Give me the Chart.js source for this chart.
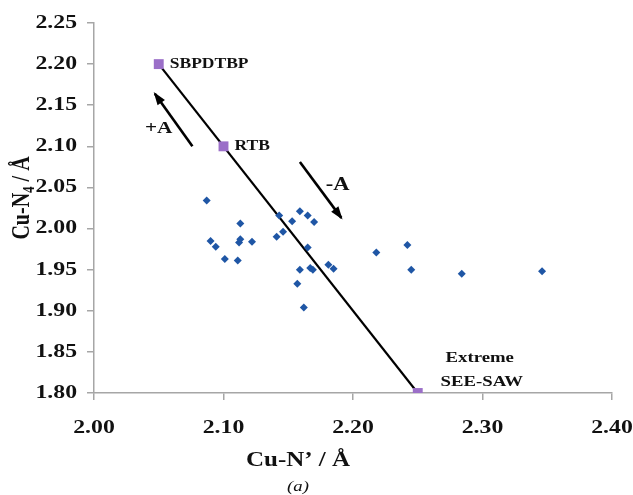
<!DOCTYPE html>
<html>
<head>
<meta charset="utf-8">
<script src="https://cdn.jsdelivr.net/npm/chart.js@4/dist/chart.umd.min.js"></script>
<style>
    html, body { margin: 0; padding: 0; background: #fff; }
    #wrap { width: 633px; height: 495px; position: relative; }
</style>
</head>
<body>
<div id="wrap"><canvas id="chart"></canvas></div>
<script>
// 測定データ (Cu-N' , Cu-N4)
const cuNPrime = [2.087, 2.113, 2.090, 2.094, 2.112, 2.113, 2.122, 2.101, 2.111, 2.143, 2.159, 2.165, 2.153, 2.170, 2.146,
    2.141, 2.165, 2.159, 2.167, 2.169, 2.181, 2.185, 2.157, 2.162, 2.218, 2.242, 2.245, 2.284, 2.346];
const cuN4 = [2.034, 2.006, 1.985, 1.978, 1.983, 1.987, 1.984, 1.963, 1.961, 2.016, 2.021, 2.016, 2.009, 2.008, 1.996,
    1.990, 1.977, 1.950, 1.952, 1.950, 1.956, 1.951, 1.933, 1.904, 1.971, 1.980, 1.950, 1.945, 1.948];

// 参照構造
const refNames = ['SBPDTBP', 'RTB', 'Extreme SEE-SAW'];
const refX = [2.05, 2.10, 2.25];
const refY = [2.20, 2.10, 1.80];

// 矢印 (始点 -> 終点)
const plusArrowX = [2.076, 2.047];
const plusArrowY = [2.100, 2.164];
const minusArrowX = [2.159, 2.191];
const minusArrowY = [2.081, 2.013];
const arrowLabels = ['+A', '-A'];

const xTickValues = [2.00, 2.10, 2.20, 2.30, 2.40];
const yTickValues = [1.80, 1.85, 1.90, 1.95, 2.00, 2.05, 2.10, 2.15, 2.20, 2.25];

const SERIF = '"Liberation Serif", "Times New Roman", serif';
const SX = 1.25; // 元画像は横に引き伸ばされている
const AXIS_GREY = '#a6a6a6';

const toPoints = (xs, ys) => xs.map((x, i) => ({ x: x, y: ys[i] }));

function stretchedText(ctx, text, x, y, font, align) {
    ctx.save();
    ctx.font = font;
    ctx.fillStyle = '#111';
    ctx.textAlign = align;
    ctx.textBaseline = 'middle';
    ctx.translate(x, y);
    ctx.scale(SX, 1);
    ctx.fillText(text, 0, 0);
    ctx.restore();
}

function arrowHead(ctx, x0, y0, x1, y1) {
    const ang = Math.atan2(y1 - y0, x1 - x0);
    const len = 11, half = 4.5;
    ctx.save();
    ctx.translate(x1, y1);
    ctx.rotate(ang);
    ctx.beginPath();
    ctx.moveTo(2, 0);
    ctx.lineTo(-len, -half);
    ctx.lineTo(-len, half);
    ctx.closePath();
    ctx.fillStyle = '#000';
    ctx.fill();
    ctx.restore();
}

// 目盛ラベル・注記・軸タイトル
const annotationPlugin = {
    id: 'annotations',
    afterDatasetsDraw(chart) {
        const ctx = chart.ctx;
        const xs = chart.scales.x, ys = chart.scales.y;
        [[plusArrowX, plusArrowY], [minusArrowX, minusArrowY]].forEach(([ax, ay]) => {
            arrowHead(ctx, xs.getPixelForValue(ax[0]), ys.getPixelForValue(ay[0]),
                xs.getPixelForValue(ax[1]), ys.getPixelForValue(ay[1]));
        });
    },
    afterDraw(chart) {
        const ctx = chart.ctx;
        const xs = chart.scales.x, ys = chart.scales.y;
        const tickFont = 'bold 19px ' + SERIF;

        xs.ticks.forEach(t => {
            stretchedText(ctx, t.value.toFixed(2), xs.getPixelForValue(t.value), 428, tickFont, 'center');
        });
        ys.ticks.forEach(t => {
            stretchedText(ctx, t.value.toFixed(2), 77, ys.getPixelForValue(t.value), tickFont, 'right');
        });

        // 参照点のラベル
        const px = refX.map(v => xs.getPixelForValue(v));
        const py = refY.map(v => ys.getPixelForValue(v));
        stretchedText(ctx, refNames[0], px[0] + 11, py[0], 'bold 14px ' + SERIF, 'left');
        stretchedText(ctx, refNames[1], px[1] + 11, py[1], 'bold 14px ' + SERIF, 'left');
        const words = refNames[2].split(' ');
        stretchedText(ctx, words[0], px[2] + 62, py[2] - 35, 'bold 15px ' + SERIF, 'center');
        stretchedText(ctx, words[1], px[2] + 64, py[2] - 11, 'bold 15px ' + SERIF, 'center');

        // 矢印ラベル
        const mid = (a, s) => s.getPixelForValue((a[0] + a[1]) / 2);
        stretchedText(ctx, arrowLabels[0], mid(plusArrowX, xs) - 15, mid(plusArrowY, ys) + 9, 'bold 17px ' + SERIF, 'center');
        stretchedText(ctx, arrowLabels[1], mid(minusArrowX, xs) + 17, mid(minusArrowY, ys) - 5, 'bold 18px ' + SERIF, 'center');

        // x軸タイトル
        stretchedText(ctx, 'Cu-N\u2019 / \u00C5', 298, 461, 'bold 20px ' + SERIF, 'center');
        stretchedText(ctx, '(a)', 298, 487, 'italic 15px ' + SERIF, 'center');

        // y軸タイトル (下付き4)
        ctx.save();
        ctx.translate(21, 198);
        ctx.rotate(-Math.PI / 2);
        ctx.scale(1, SX);
        ctx.fillStyle = '#111';
        ctx.textBaseline = 'alphabetic';
        const big = 'bold 20px ' + SERIF, small = 'bold 13px ' + SERIF;
        ctx.font = big;
        const w1 = ctx.measureText('Cu-N').width;
        const w3 = ctx.measureText(' / \u00C5').width;
        ctx.font = small;
        const w2 = ctx.measureText('4').width;
        let x = -(w1 + w2 + w3) / 2;
        ctx.font = big;
        ctx.fillText('Cu-N', x, 6);
        x += w1;
        ctx.font = small;
        ctx.fillText('4', x, 10);
        x += w2;
        ctx.font = big;
        ctx.fillText(' / \u00C5', x, 6);
        ctx.restore();
    }
};

const chart = new Chart(document.getElementById('chart'), {
    type: 'scatter',
    data: {
        datasets: [
            {
                label: 'reference',
                data: toPoints(refX, refY),
                pointStyle: 'rect',
                pointRadius: 7,
                backgroundColor: '#9b6fc8',
                borderColor: '#9b6fc8',
                borderWidth: 0
            },
            {
                label: 'Cu complexes',
                data: toPoints(cuNPrime, cuN4),
                pointStyle: 'rectRot',
                pointRadius: 4,
                backgroundColor: '#1f56a5',
                borderColor: '#1f56a5',
                borderWidth: 0
            },
            {
                label: 'trend',
                data: toPoints([refX[0], refX[2]], [refY[0], refY[2]]),
                showLine: true,
                pointRadius: 0,
                borderColor: '#000',
                borderWidth: 2.2
            },
            {
                label: '+A',
                data: toPoints(plusArrowX, plusArrowY),
                showLine: true,
                pointRadius: 0,
                borderColor: '#000',
                borderWidth: 2.6
            },
            {
                label: '-A',
                data: toPoints(minusArrowX, minusArrowY),
                showLine: true,
                pointRadius: 0,
                borderColor: '#000',
                borderWidth: 2.6
            }
        ]
    },
    options: {
        responsive: true,
        maintainAspectRatio: false,
        animation: false,
        layout: { padding: { left: 0, right: 21, top: 23, bottom: 0 } },
        plugins: {
            legend: { display: false },
            tooltip: { enabled: false }
        },
        scales: {
            x: {
                type: 'linear',
                min: 2.0,
                max: 2.4,
                afterBuildTicks: s => { s.ticks = xTickValues.map(v => ({ value: v })); },
                afterFit: s => { s.height = 102; s.paddingLeft = 0; s.paddingRight = 0; },
                border: { color: AXIS_GREY, width: 1.5 },
                grid: { drawOnChartArea: false, tickLength: 7, color: AXIS_GREY, lineWidth: 1.5 },
                ticks: { color: 'rgba(0,0,0,0)' }
            },
            y: {
                type: 'linear',
                min: 1.8,
                max: 2.25,
                afterBuildTicks: s => { s.ticks = yTickValues.map(v => ({ value: v })); },
                afterFit: s => { s.width = 94; s.paddingTop = 0; s.paddingBottom = 0; },
                border: { color: AXIS_GREY, width: 1.5 },
                grid: { drawOnChartArea: false, tickLength: 7, color: AXIS_GREY, lineWidth: 1.5 },
                ticks: { color: 'rgba(0,0,0,0)' }
            }
        }
    },
    plugins: [annotationPlugin]
});
</script>
</body>
</html>
